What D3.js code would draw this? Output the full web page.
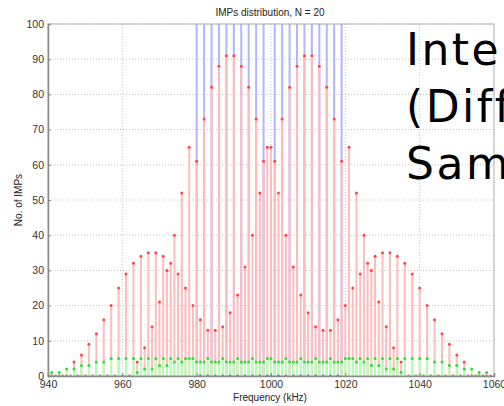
<!DOCTYPE html>
<html>
<head>
<meta charset="utf-8">
<script src="https://cdn.jsdelivr.net/npm/d3@7"></script>
<style>
  body { margin: 0; background: #fff; }
  svg { display: block; }
  .tick text { font-family: "Liberation Sans", Arial, sans-serif; font-size: 10.5px; fill: #333; }
  .grid line { stroke: #c4c4c4; stroke-dasharray: 1,2; }
</style>
</head>
<body>
<svg id="chart" width="504" height="406"></svg>
<script>
"use strict";

//Frequencies in kHz, one IMP count per frequency
var freqs = d3.range(940, 1060);

//Red series: IMP counts 940..1059
var redCounts = [
  0, 0, 0, 0, 0, 0, 0, 4, 0, 6,
  0, 9, 0, 12, 0, 16, 0, 20, 0, 25,
  0, 29, 0, 32, 4, 34, 8, 35, 14, 35,
  21, 34, 30, 32, 40, 29, 52, 25, 65, 20,
  61, 16, 73, 13, 82, 13, 88, 14, 91, 18,
  91, 23, 88, 31, 82, 40, 73, 52, 61, 65,
  65, 61, 52, 73, 40, 82, 31, 88, 23, 91,
  18, 91, 14, 88, 13, 82, 13, 73, 16, 61,
  20, 65, 25, 52, 29, 40, 32, 30, 34, 21,
  35, 14, 35, 8, 34, 4, 32, 0, 29, 0,
  25, 0, 20, 0, 16, 0, 12, 0, 9, 0,
  6, 0, 4, 0, 0, 0, 0, 0, 0, 0
];

//Green series: IMP counts 940..1059 (null = not plotted)
var greenCounts = [
  null, 1, 0, 1, 0, 2, 0, 2, 0, 3,
  0, 3, 0, 4, 0, 4, 0, 5, 0, 5,
  0, 5, 0, 5, 1, 5, 2, 5, 2, 5,
  3, 5, 3, 5, 4, 5, 4, 5, 5, 5,
  4, 4, 4, 5, 4, 4, 4, 5, 4, 4,
  4, 5, 4, 4, 4, 5, 4, 4, 4, 5,
  5, 4, 4, 4, 5, 4, 4, 4, 5, 4,
  4, 4, 5, 4, 4, 4, 5, 4, 4, 4,
  5, 5, 5, 4, 5, 4, 5, 3, 5, 3,
  5, 2, 5, 2, 5, 1, 5, 0, 5, 0,
  5, 0, 5, 0, 4, 0, 4, 0, 3, 0,
  3, 0, 2, 0, 2, 0, 1, 0, 1, null
];

//Blue series: carriers (go off the top of the chart) 980..1019
var blueFreqs = d3.range(980, 1020);
var blueCounts = [
  120, 0, 120, 0, 120, 0, 120, 0, 120, 0,
  120, 0, 120, 0, 120, 0, 120, 0, 120, 0,
  0, 120, 0, 120, 0, 120, 0, 120, 0, 120,
  0, 120, 0, 120, 0, 120, 0, 120, 0, 120
];

var xTicks = [940, 960, 980, 1000, 1020, 1040, 1060];
var yTicks = [0, 10, 20, 30, 40, 50, 60, 70, 80, 90, 100];

var titleText = "IMPs distribution, N = 20";
var xLabel = "Frequency (kHz)";
var yLabel = "No. of IMPs";
var slideLines = ["Inte", "(Diff", "Sam"];

var svg = d3.select("#chart");
var margin = {left: 48, right: 494, top: 24, bottom: 376};

var x = d3.scaleLinear().domain([940, 1060]).range([margin.left, margin.right]);
var y = d3.scaleLinear().domain([0, 100]).range([margin.bottom, margin.top]);

svg.append("rect").attr("width", 504).attr("height", 406).attr("fill", "#fff");

svg.append("clipPath").attr("id", "plot-clip")
  .append("rect").attr("x", margin.left).attr("y", margin.top)
  .attr("width", margin.right - margin.left).attr("height", margin.bottom - margin.top);

//Grid lines
var grid = svg.append("g").attr("class", "grid");
grid.selectAll(".gx").data(xTicks.slice(1, -1)).enter().append("line")
  .attr("x1", d => x(d)).attr("x2", d => x(d))
  .attr("y1", margin.top).attr("y2", margin.bottom);
grid.selectAll(".gy").data(yTicks.slice(1)).enter().append("line")
  .attr("x1", margin.left).attr("x2", margin.right)
  .attr("y1", d => y(d)).attr("y2", d => y(d));

var plot = svg.append("g").attr("clip-path", "url(#plot-clip)");

function stems(fs, vals, color) {
  var pts = fs.map((f, i) => ({f: f, v: vals[i]})).filter(d => d.v !== null);
  plot.append("g").selectAll("line").data(pts).enter().append("line")
    .attr("x1", d => x(d.f)).attr("x2", d => x(d.f))
    .attr("y1", y(0)).attr("y2", d => y(d.v))
    .attr("stroke", color).attr("stroke-width", 2);
  return pts;
}
function markers(pts, color) {
  plot.append("g").selectAll("circle").data(pts).enter().append("circle")
    .attr("cx", d => x(d.f)).attr("cy", d => y(d.v))
    .attr("r", 1.5).attr("fill", color);
}

var bluePts = stems(blueFreqs, blueCounts, "#b4b4ff");
var redPts = stems(freqs, redCounts, "#ffbcbc");
var greenPts = stems(freqs, greenCounts, "#b4ffb4");
markers(bluePts, "#4646ff");
markers(redPts, "#ff4646");
markers(greenPts, "#3ad83a");

//Box
svg.append("rect").attr("x", margin.left).attr("y", margin.top)
  .attr("width", margin.right - margin.left).attr("height", margin.bottom - margin.top)
  .attr("fill", "none").attr("stroke", "#b0b0b0").attr("stroke-width", 1);

//Axes
var xAxis = svg.append("g").attr("transform", "translate(0," + margin.bottom + ")")
  .call(d3.axisBottom(x).tickValues(xTicks).tickSize(-3).tickPadding(5).tickFormat(d3.format("d")));
var yAxis = svg.append("g").attr("transform", "translate(" + margin.left + ",0)")
  .call(d3.axisLeft(y).tickValues(yTicks).tickSize(-3).tickPadding(4));
[xAxis, yAxis].forEach(function(a) {
  a.select(".domain").attr("stroke", "#8a8a8a").attr("stroke-width", 1.5);
  a.selectAll(".tick line").attr("stroke", "#8a8a8a");
});

//Labels
svg.append("text").attr("x", 270).attr("y", 16).attr("text-anchor", "middle")
  .style("font", "10px 'Liberation Sans', Arial, sans-serif").attr("fill", "#222")
  .text(titleText);
svg.append("text").attr("x", 270).attr("y", 401).attr("text-anchor", "middle")
  .style("font", "10px 'Liberation Sans', Arial, sans-serif").attr("fill", "#222")
  .text(xLabel);
svg.append("text").attr("transform", "translate(22,200) rotate(-90)").attr("text-anchor", "middle")
  .style("font", "10px 'Liberation Sans', Arial, sans-serif").attr("fill", "#222")
  .text(yLabel);

//Slide text overlapping the figure
svg.append("g").selectAll("text").data(slideLines).enter().append("text")
  .attr("x", 406).attr("y", (d, i) => 65 + i * 57)
  .style("font", "44px 'DejaVu Sans', sans-serif").style("letter-spacing", "2.5px")
  .attr("fill", "#000")
  .text(d => d);
</script>
</body>
</html>
